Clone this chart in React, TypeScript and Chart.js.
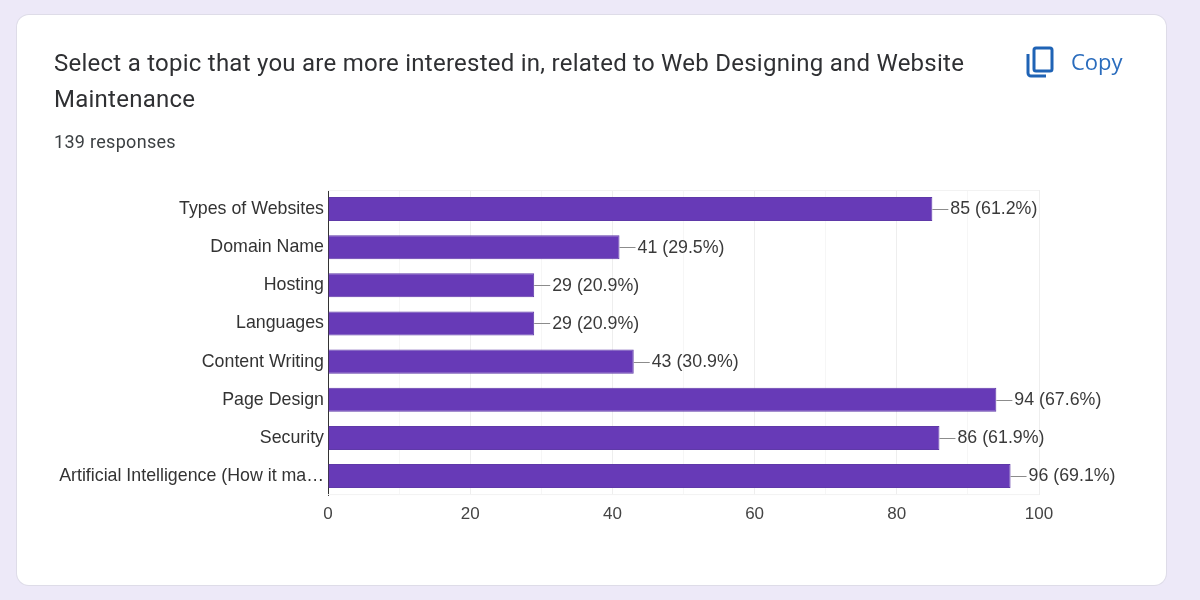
import React, { useEffect, useRef } from "react";
import { Chart, registerables } from "chart.js";

Chart.register(...registerables);

const categories = ["Types of Websites", "Domain Name", "Hosting", "Languages", "Content Writing", "Page Design", "Security", "Artificial Intelligence (How it ma…"];
const counts = [85, 41, 29, 29, 43, 94, 86, 96];
const percents = ["61.2%", "29.5%", "20.9%", "20.9%", "30.9%", "67.6%", "61.9%", "69.1%"];
const titleText = "Select a topic that you are more interested in, related to Web Designing and Website Maintenance";
const subtitleText = "139 responses";
const copyText = "Copy";

const FONT_FAMILY = "'Liberation Sans', Arial, sans-serif";

const frameLines = {
  id: "frameLines",
  beforeDatasetsDraw(chart: any) {
    const { ctx, chartArea } = chart;
    ctx.save();
    ctx.strokeStyle = "#f2f2f2";
    ctx.lineWidth = 1;
    ctx.beginPath();
    ctx.moveTo(chartArea.left, chartArea.top + 0.5);
    ctx.lineTo(chartArea.right, chartArea.top + 0.5);
    ctx.moveTo(chartArea.left, chartArea.bottom - 0.5);
    ctx.lineTo(chartArea.right, chartArea.bottom - 0.5);
    ctx.stroke();
    ctx.restore();
  },
};

const valueLabels = {
  id: "valueLabels",
  afterDatasetsDraw(chart: any) {
    const { ctx } = chart;
    const meta = chart.getDatasetMeta(0);
    ctx.save();
    ctx.font = `17.8px ${FONT_FAMILY}`;
    ctx.textBaseline = "middle";
    meta.data.forEach((bar: any, i: number) => {
      ctx.strokeStyle = "#8c8c8c";
      ctx.lineWidth = 1;
      ctx.beginPath();
      ctx.moveTo(bar.x, Math.round(bar.y) + 0.5);
      ctx.lineTo(bar.x + 16, Math.round(bar.y) + 0.5);
      ctx.stroke();
      ctx.fillStyle = "#3a3a3a";
      ctx.textAlign = "left";
      ctx.fillText(`${counts[i]} (${percents[i]})`, bar.x + 18, bar.y + 0.5);
    });
    ctx.restore();
  },
};

export default function App() {
  const ref = useRef<HTMLCanvasElement | null>(null);
  useEffect(() => {
    const chart = new Chart(ref.current!, {
      type: "bar",
      data: {
        labels: categories,
        datasets: [{
          data: counts,
          backgroundColor: "#673ab7",
          borderColor: "#5f39a8",
          borderWidth: 1,
          barPercentage: 0.63,
          categoryPercentage: 1,
        }],
      },
      options: {
        indexAxis: "y",
        animation: false,
        responsive: false,
        layout: { padding: { left: 0, right: 161, top: 190, bottom: 66.5 } },
        plugins: { legend: { display: false }, tooltip: { enabled: false } },
        scales: {
          x: {
            min: 0,
            max: 100,
            ticks: {
              stepSize: 10,
              autoSkip: false,
              maxRotation: 0,
              font: { size: 17, family: FONT_FAMILY },
              color: "#444444",
              padding: 9,
              callback: (v: any) => (Number(v) % 20 === 0 ? String(v) : ""),
            },
            grid: {
              color: (c: any) => (c.tick && c.tick.value % 20 === 0 ? "#eeeeee" : "#f6f6f6"),
              drawTicks: false,
            },
            border: { display: false },
          },
          y: {
            afterFit: (s: any) => { s.width = 328; },
            ticks: {
              autoSkip: false,
              font: { size: 17.8, family: FONT_FAMILY },
              color: "#333333",
              padding: 4,
            },
            grid: { display: false, drawTicks: false },
            border: { color: "#333333", width: 1 },
          },
        },
      },
      plugins: [frameLines, valueLabels],
    });
    return () => chart.destroy();
  }, []);

  return (
    <div style={{ position: "fixed", left: 0, top: 0, width: 1200, height: 600, background: "#ede9f8", overflow: "hidden" }}>
      <div style={{ position: "absolute", left: 17, top: 15, width: 1149, height: 570, background: "#fff", borderRadius: 12, boxShadow: "0 0 0 1px #dedce8" }} />
      <canvas ref={ref} width={1200} height={600} style={{ position: "absolute", left: 0, top: 0, width: 1200, height: 600 }} />
      <div style={{ position: "absolute", left: 54, top: 45, width: 930, fontFamily: "Roboto, sans-serif", fontSize: 24, lineHeight: "36px", color: "#2f3033", letterSpacing: 0.25 }}>{titleText}</div>
      <div style={{ position: "absolute", left: 54, top: 131, fontFamily: "Roboto, sans-serif", fontSize: 18, lineHeight: "22px", color: "#3c4043", letterSpacing: 0.3 }}>{subtitleText}</div>
      <svg style={{ position: "absolute", left: 1026, top: 46 }} width="28" height="32" viewBox="0 0 28 32" fill="none" stroke="#1f63b5" strokeWidth="3">
        <rect x="8" y="2" width="18" height="23" rx="2" />
        <path d="M2 8 V27 a3 3 0 0 0 3 3 H20" />
      </svg>
      <div style={{ position: "absolute", left: 1071, top: 46, fontFamily: "'Open Sans', Roboto, sans-serif", fontSize: 22, lineHeight: "30px", color: "#2a6cbd" }}>{copyText}</div>
    </div>
  );
}
